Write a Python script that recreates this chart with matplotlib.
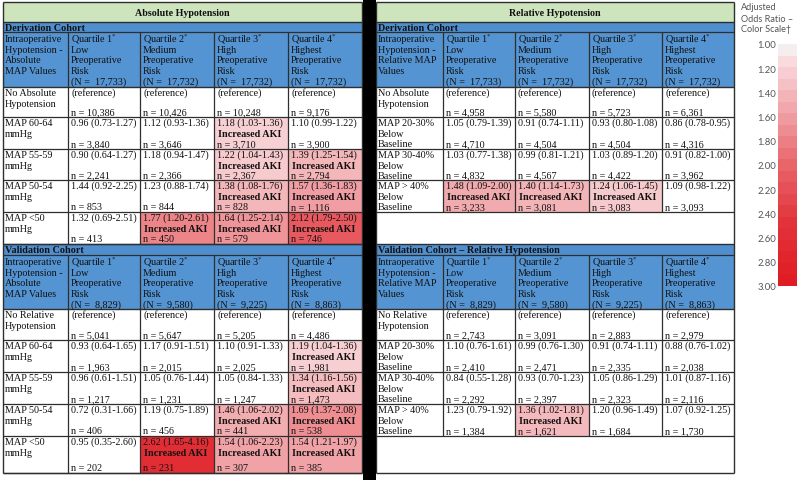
import matplotlib
matplotlib.use('Agg')
import matplotlib.pyplot as plt
from matplotlib.patches import Rectangle
from matplotlib.colors import LinearSegmentedColormap, Normalize
import matplotlib.cm as cm

# ---------------- data ----------------
quartile_names = ["Low", "Medium", "High", "Highest"]
deriv_N = ["17,733", "17,732", "17,732", "17,732"]
valid_N = ["8,829", "9,580", "9,225", "8,863"]

abs_deriv_rows = ["No Absolute\nHypotension", "MAP 60-64\nmmHg", "MAP 55-59\nmmHg", "MAP 50-54\nmmHg", "MAP <50\nmmHg"]
abs_deriv_or = [[0.96, 1.12, 1.18, 1.10], [0.90, 1.18, 1.22, 1.39], [1.44, 1.23, 1.38, 1.57], [1.32, 1.77, 1.64, 2.12]]
abs_deriv_lo = [[0.73, 0.93, 1.03, 0.99], [0.64, 0.94, 1.04, 1.25], [0.92, 0.88, 1.08, 1.36], [0.69, 1.20, 1.25, 1.79]]
abs_deriv_hi = [[1.27, 1.36, 1.36, 1.22], [1.27, 1.47, 1.43, 1.54], [2.25, 1.74, 1.76, 1.83], [2.51, 2.61, 2.14, 2.50]]
abs_deriv_n = [[10386, 10426, 10248, 9176], [3840, 3646, 3710, 3900], [2241, 2366, 2367, 2794],
               [853, 844, 828, 1116], [413, 450, 579, 746]]

abs_valid_rows = ["No Relative\nHypotension", "MAP 60-64\nmmHg", "MAP 55-59\nmmHg", "MAP 50-54\nmmHg", "MAP <50\nmmHg"]
abs_valid_or = [[0.93, 1.17, 1.10, 1.19], [0.96, 1.05, 1.05, 1.34], [0.72, 1.19, 1.46, 1.69], [0.95, 2.62, 1.54, 1.54]]
abs_valid_lo = [[0.64, 0.91, 0.91, 1.04], [0.61, 0.76, 0.84, 1.16], [0.31, 0.75, 1.06, 1.37], [0.35, 1.65, 1.06, 1.21]]
abs_valid_hi = [[1.65, 1.51, 1.33, 1.36], [1.51, 1.44, 1.33, 1.56], [1.66, 1.89, 2.02, 2.08], [2.60, 4.16, 2.23, 1.97]]
abs_valid_n = [[5041, 5647, 5205, 4486], [1963, 2015, 2025, 1981], [1217, 1231, 1247, 1473],
               [406, 456, 441, 538], [202, 231, 307, 385]]

rel_deriv_rows = ["No Absolute\nHypotension", "MAP 20-30%\nBelow\nBaseline", "MAP 30-40%\nBelow\nBaseline", "MAP > 40%\nBelow\nBaseline"]
rel_deriv_or = [[1.05, 0.91, 0.93, 0.86], [1.03, 0.99, 1.03, 0.91], [1.48, 1.40, 1.24, 1.09]]
rel_deriv_lo = [[0.79, 0.74, 0.80, 0.78], [0.77, 0.81, 0.89, 0.82], [1.09, 1.14, 1.06, 0.98]]
rel_deriv_hi = [[1.39, 1.11, 1.08, 0.95], [1.38, 1.21, 1.20, 1.00], [2.00, 1.73, 1.45, 1.22]]
rel_deriv_n = [[4958, 5580, 5723, 6361], [4710, 4504, 4504, 4316], [4832, 4567, 4422, 3962], [3233, 3081, 3083, 3093]]

rel_valid_rows = ["No Relative\nHypotension", "MAP 20-30%\nBelow\nBaseline", "MAP 30-40%\nBelow\nBaseline", "MAP > 40%\nBelow\nBaseline"]
rel_valid_or = [[1.10, 0.99, 0.91, 0.88], [0.84, 0.93, 1.05, 1.01], [1.23, 1.36, 1.20, 1.07]]
rel_valid_lo = [[0.76, 0.76, 0.74, 0.76], [0.55, 0.70, 0.86, 0.87], [0.79, 1.02, 0.96, 0.92]]
rel_valid_hi = [[1.61, 1.30, 1.11, 1.02], [1.28, 1.23, 1.29, 1.16], [1.92, 1.81, 1.49, 1.25]]
rel_valid_n = [[2743, 3091, 2883, 2979], [2410, 2471, 2335, 2038], [2292, 2397, 2323, 2116], [1384, 1621, 1684, 1730]]

scale_ticks = [1.00, 1.20, 1.40, 1.60, 1.80, 2.00, 2.20, 2.40, 2.60, 2.80, 3.00]

# ---------------- style ----------------
plt.rcParams['mathtext.fontset'] = 'stix'
SERIF = 'Liberation Serif'
SANS = 'Lato'
FS = 7.3
LH = 10.6
GREEN = '#cde4bc'
BLUE = '#5494d2'
BLUE2 = '#4f8fcf'
LINE = '#2e2e2e'

cmap = LinearSegmentedColormap.from_list(
    'or', [(0.0, '#f4eeee'), (0.05, '#f9dadd'), (0.25, '#f1a7ab'),
           (0.5, '#e8656a'), (0.75, '#e2333a'), (1.0, '#e01c24')])
norm = Normalize(1.0, 3.0)

fig = plt.figure(figsize=(8, 4.81), dpi=100)
ax = fig.add_axes([0, 0, 1, 1])
ax.set_xlim(0, 800)
ax.set_ylim(481, 0)
ax.axis('off')


def txt(x, y, s, bold=False, ha='left', size=FS, color='#111111'):
    ax.text(x, y, s, fontsize=size, family=SERIF, fontweight='bold' if bold else 'normal',
            ha=ha, va='center', color=color, linespacing=1.1)


def hline(x0, x1, y, lw=0.9):
    ax.plot([x0, x1], [y, y], color=LINE, lw=lw, solid_capstyle='butt')


def vline(x, y0, y1, lw=0.9):
    ax.plot([x, x], [y0, y1], color=LINE, lw=lw, solid_capstyle='butt')


def draw_block(xs, bar_top, bar_bot, bar_text, hdr_bot, first_hdr, Ns,
               row_labels, ors, los, his, ns, edges):
    x0, x1 = xs[0], xs[-1]
    # cohort bar
    ax.add_patch(Rectangle((x0, bar_top), x1 - x0, bar_bot - bar_top, color=BLUE2, lw=0))
    txt(x0 + 2, (bar_top + bar_bot) / 2 + 0.5, bar_text, bold=True)
    # header
    ax.add_patch(Rectangle((x0, bar_bot), x1 - x0, hdr_bot - bar_bot, color=BLUE, lw=0))
    for k, line in enumerate(first_hdr):
        txt(x0 + 2, bar_bot + 6.5 + LH * k, line)
    for j in range(4):
        cx = xs[j + 1] + 3
        lines = [r'Quartile %d$^{*}$' % (j + 1), quartile_names[j], 'Preoperative', 'Risk',
                 '(N =  %s)' % Ns[j]]
        for k, line in enumerate(lines):
            txt(cx, bar_bot + 6.5 + LH * k, line)
    # body rows
    for i, lab in enumerate(row_labels):
        top, bot = edges[i], edges[i + 1]
        for k, line in enumerate(lab.split('\n')):
            txt(x0 + 2, top + 5.5 + LH * k, line)
        for j in range(4):
            cl = xs[j + 1]
            cr = xs[j + 2]
            cx = cl + 3
            if i == 0:
                txt(cx, top + 5.5, '(reference)')
            else:
                o, lo, hi = ors[i - 1][j], los[i - 1][j], his[i - 1][j]
                if lo > 1:
                    ax.add_patch(Rectangle((cl, top), cr - cl, bot - top,
                                           color=cmap(norm(o)), lw=0))
                    txt(cx + 1, top + 5.5 + LH, 'Increased AKI', bold=True)
                txt(cx, top + 5.5, '%.2f (%.2f-%.2f)' % (o, lo, hi))
            txt(cx, bot - 5.0, 'n = {:,}'.format(ns[i][j]))
    # lines
    hline(x0, x1, bar_top, lw=1.0)
    hline(x0, x1, bar_bot)
    hline(x0, x1, hdr_bot, lw=1.0)
    for e in edges[1:]:
        hline(x0, x1, e)
    for x in xs[1:-1]:
        vline(x, bar_bot, edges[-1])


# geometry
LX = [3, 68, 140, 214, 288, 362]
RX = [376, 443, 515, 589, 662, 734]
TOP = 3
BOTTOM = 474

for xs, title in [(LX, 'Absolute Hypotension'), (RX, 'Relative Hypotension')]:
    ax.add_patch(Rectangle((xs[0], TOP), xs[-1] - xs[0], 20, color=GREEN, lw=0))
    txt((xs[0] + xs[-1]) / 2, 13, title, bold=True, ha='center', size=7.2)
    hline(xs[0], xs[-1], TOP, lw=1.0)
    hline(xs[0], xs[-1], BOTTOM, lw=1.0)
    vline(xs[0], TOP, BOTTOM, lw=1.0)
    vline(xs[-1], TOP, BOTTOM, lw=1.0)

abs_hdr = ['Intraoperative', 'Hypotension -', 'Absolute', 'MAP Values']
rel_hdr = ['Intraoperative', 'Hypotension -', 'Relative MAP', 'Values']

draw_block(LX, 23, 33, 'Derivation Cohort', 88, abs_hdr, deriv_N, abs_deriv_rows,
           abs_deriv_or, abs_deriv_lo, abs_deriv_hi, abs_deriv_n, [88, 118, 150, 181, 213, 245])
draw_block(LX, 245, 256, 'Validation Cohort', 310, abs_hdr, valid_N, abs_valid_rows,
           abs_valid_or, abs_valid_lo, abs_valid_hi, abs_valid_n, [310, 341, 373, 405, 437, BOTTOM])
draw_block(RX, 23, 33, 'Derivation Cohort', 88, rel_hdr, deriv_N, rel_deriv_rows,
           rel_deriv_or, rel_deriv_lo, rel_deriv_hi, rel_deriv_n, [88, 118, 150, 181, 213])
draw_block(RX, 245, 256, 'Validation Cohort \u2013 Relative Hypotension', 310, rel_hdr, valid_N, rel_valid_rows,
           rel_valid_or, rel_valid_lo, rel_valid_hi, rel_valid_n, [310, 341, 373, 405, 437])

# black separator bar
ax.add_patch(Rectangle((363, 0), 13, 481, color='black', lw=0, zorder=5))

# colour scale legend
for k, line in enumerate(['Adjusted', 'Odds Ratio \u2013', 'Color Scale\u2020']):
    ax.text(741, 8 + 11 * k, line, fontsize=6.6, family=SANS, color='#555555', va='center', ha='left')

cax = fig.add_axes([778 / 800, 1 - 287 / 481, 19 / 800, (287 - 45) / 481])
sm = cm.ScalarMappable(norm=norm, cmap=cmap.resampled(21))
cb = fig.colorbar(sm, cax=cax, ticks=scale_ticks)
cb.outline.set_visible(False)
cax.invert_yaxis()
cax.yaxis.set_ticks_position('left')
cax.tick_params(length=0, pad=1.5)
cax.set_yticklabels(['%.2f' % t for t in scale_ticks], fontsize=6.8, family=SANS, color='#555555')

fig.savefig('out.png', dpi=100)
